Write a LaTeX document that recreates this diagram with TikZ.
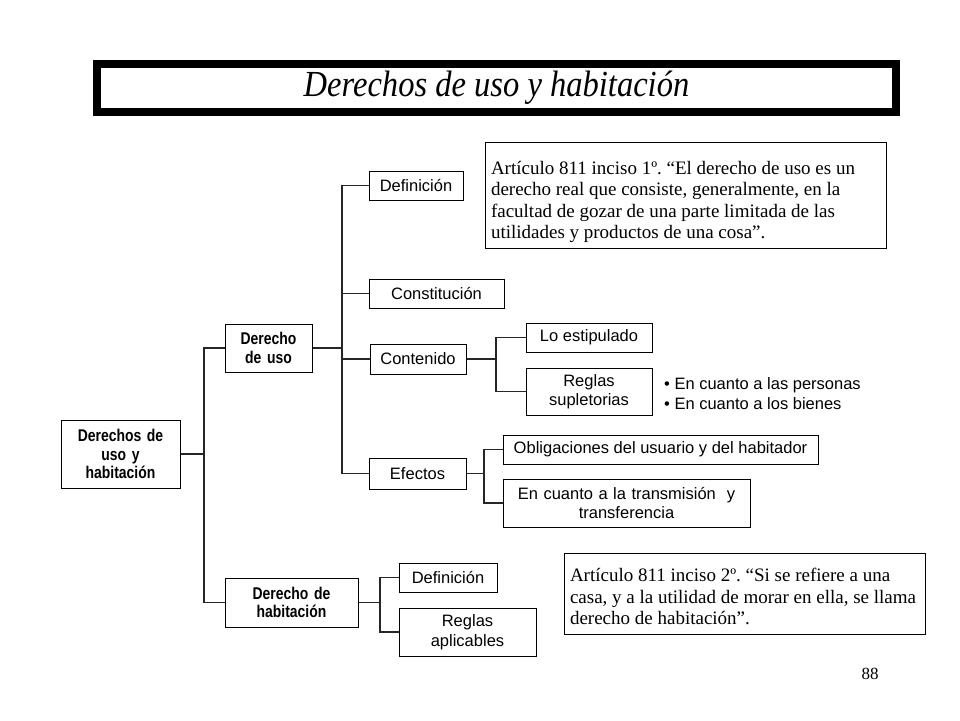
\documentclass[tikz,border=0pt]{standalone}
\usepackage{fontspec}
\setmainfont{Liberation Serif}
\setsansfont{Liberation Sans}
\newfontfamily\narrowbold[FakeStretch=0.82,WordSpace=0.8]{Liberation Sans}
\frenchspacing
\tikzset{
  box/.style={draw=black, line width=1pt, fill=white, inner sep=2pt, align=center,
    font=\sffamily\fontsize{16.5}{19.5}\selectfont},
  bbox/.style={box, font=\narrowbold\bfseries\fontsize{17}{18.5}\selectfont},
  artbox/.style={draw=black, line width=1pt, fill=white, inner sep=6pt,
    font=\rmfamily\fontsize{19}{21.6}\selectfont},
  conn/.style={line width=1.3pt, draw=black!85},
}
\begin{document}
\begin{tikzpicture}[x=1pt,y=-1pt]
\useasboundingbox (0,0) rectangle (960,720);
% title
\node[draw=black, line width=8pt, minimum width=799, minimum height=48, inner sep=0]
  (title) at (496.5,88) {\scalebox{0.93}[1.05]{\fontsize{35}{37}\selectfont\itshape Derechos de uso y habitación}};
% level 0
\node[bbox, minimum width=119, minimum height=68, text width=115] (root) at (120.5,454) {Derechos de\\uso y\\habitación};
% level 1
\node[bbox, minimum width=87, minimum height=48, text width=83] (du) at (268.5,348) {Derecho\\de uso};
\node[bbox, minimum width=133, minimum height=49, text width=129] (dh) at (291.5,602.5) {Derecho de\\habitación};
% level 2 (uso)
\node[box, minimum width=94, minimum height=29] (def) at (416,185.5) {Definición};
\node[box, minimum width=135, minimum height=29] (cons) at (436.5,293.5) {Constitución};
\node[box, minimum width=96, minimum height=30] (cont) at (418,359) {Contenido};
\node[box, minimum width=97, minimum height=31] (efe) at (417.5,473.5) {Efectos};
% level 3
\node[box, minimum width=126, minimum height=29] (lo) at (589,337.5) {Lo estipulado};
\node[box, minimum width=126, minimum height=47, text width=122] (reg) at (589,391.5) {Reglas\\supletorias};
\node[box, minimum width=315, minimum height=29] (obl) at (660.5,449.5) {Obligaciones del usuario y del habitador};
\node[box, minimum width=247, minimum height=48, text width=243] (tra) at (626.5,503) {En cuanto a la transmisión~ y\\transferencia};
% level 2 (habitacion)
\node[box, minimum width=98, minimum height=29] (def2) at (448,577.5) {Definición};
\node[box, minimum width=137, minimum height=48, text width=133] (rap) at (467.5,632) {Reglas\\aplicables};
% bullets
\node[anchor=west, align=left, inner sep=0, font=\sffamily\fontsize{16.5}{20}\selectfont] (bul) at (664,394)
  {\textbullet\ En cuanto a las personas\\\textbullet\ En cuanto a los bienes};
% article boxes
\node[artbox] (art1) at (685.5,195)
  {\parbox[c][94pt][c]{389pt}{\raggedright\vspace*{14pt}Artículo 811 inciso 1º. “El derecho de uso es un\\derecho real que consiste, generalmente, en la\\facultad de gozar de una parte limitada de las\\utilidades y productos de una cosa”.}};
\node[artbox] (art2) at (744.5,593.5)
  {\parbox[c][69pt][c]{349pt}{\raggedright\vspace*{6pt}Artículo 811 inciso 2º. “Si se refiere a una\\casa, y a la utilidad de morar en ella, se llama\\derecho de habitación”.}};
\node[font=\rmfamily\fontsize{17}{20}\selectfont, inner sep=0] (pg) at (870,674) {88};
% spines
\coordinate (s0) at (204,0);
\coordinate (s1) at (342,0);
\coordinate (s2) at (496,0);
\coordinate (s3) at (484,0);
\coordinate (s4) at (380,0);
% connectors
\draw[conn] (root.east) -- (root.east -| s0);
\draw[conn] (du.west) -- (du.west -| s0) |- (dh.west);
\draw[conn] (du.east) -- (du.east -| s1);
\draw[conn] (def.west) -- (def.west -| s1) |- (efe.west);
\draw[conn] (cons.west) -- (cons.west -| s1);
\draw[conn] (cont.west) -- (cont.west -| s1);
\draw[conn] (cont.east) -- (cont.east -| s2);
\draw[conn] (lo.west) -- (lo.west -| s2) |- (reg.west);
\draw[conn] (efe.east) -- (efe.east -| s3);
\draw[conn] (obl.west) -- (obl.west -| s3) |- (tra.west);
\draw[conn] (dh.east) -- (dh.east -| s4);
\draw[conn] (def2.west) -- (def2.west -| s4) |- (rap.west);
\end{tikzpicture}
\end{document}
